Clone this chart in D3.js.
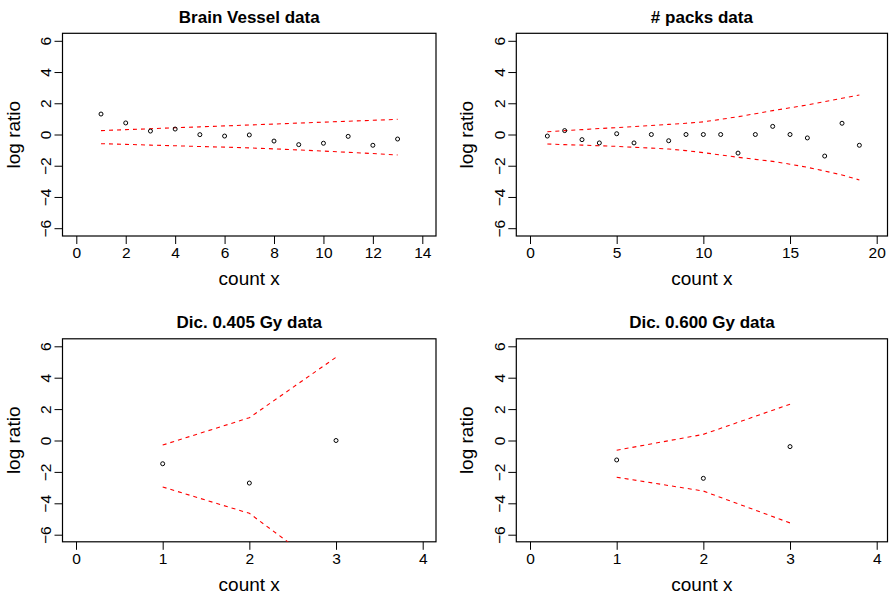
<!DOCTYPE html>
<html>
<head>
<meta charset="utf-8">
<script src="https://cdn.jsdelivr.net/npm/d3@7"></script>
<style>
  body { margin: 0; background: #fff; }
  svg { display: block; font-family: "Liberation Sans", Arial, Helvetica, sans-serif; }
  .tick line { stroke: #000; }
  .tick text { fill: #000; }
</style>
</head>
<body>
<svg id="chart" width="889" height="597"></svg>
<script>
// ---- data ----
const panelTitles = ["Brain Vessel data", "# packs data", "Dic. 0.405 Gy data", "Dic. 0.600 Gy data"];
const yTicks = [-6, -4, -2, 0, 2, 4, 6];

const brainX = [1, 2, 3, 4, 5, 6, 7, 8, 9, 10, 11, 12, 13];
const brainY = [1.31, 0.74, 0.22, 0.35, -0.01, -0.10, -0.03, -0.42, -0.65, -0.56, -0.12, -0.69, -0.29];
const brainUpper = [0.25, 0.31, 0.37, 0.43, 0.49, 0.55, 0.61, 0.67, 0.73, 0.79, 0.85, 0.91, 0.97];
const brainLower = [-0.59, -0.63, -0.68, -0.72, -0.77, -0.81, -0.86, -0.92, -0.99, -1.06, -1.14, -1.22, -1.31];
const brainTicks = [0, 2, 4, 6, 8, 10, 12, 14];

const packsX = [1, 2, 3, 4, 5, 6, 7, 8, 9, 10, 11, 12, 13, 14, 15, 16, 17, 18, 19];
const packsY = [-0.10, 0.25, -0.33, -0.54, 0.05, -0.54, 0, -0.40, 0, 0, 0, -1.19, 0, 0.52, 0, -0.22, -1.38, 0.72, -0.69];
const packsUpper = [0.18, 0.25, 0.31, 0.38, 0.44, 0.51, 0.58, 0.65, 0.72, 0.81, 0.97, 1.14, 1.33, 1.53, 1.71, 1.89, 2.10, 2.32, 2.53];
const packsLower = [-0.61, -0.65, -0.68, -0.72, -0.76, -0.82, -0.87, -0.93, -1.03, -1.16, -1.31, -1.46, -1.59, -1.72, -1.90, -2.10, -2.34, -2.59, -2.91];
const packsTicks = [0, 5, 10, 15, 20];

const dic405X = [1, 2, 3];
const dic405Y = [-1.48, -2.71, 0];
const dic405Upper = [-0.29, 1.45, 5.30];
const dic405Lower = [-2.96, -4.64, -8.73];

const dic600X = [1, 2, 3];
const dic600Y = [-1.24, -2.41, -0.39];
const dic600Upper = [-0.62, 0.39, 2.31];
const dic600Lower = [-2.34, -3.22, -5.25];
const dicTicks = [0, 1, 2, 3, 4];

// ---- layout (pixels) ----
const panels = [
  {title: panelTitles[0], xs: brainX, ys: brainY, up: brainUpper, lo: brainLower, ticks: brainTicks,
   box: {l: 62.5, r: 436, t: 33.3, b: 236}, xr: [76.3, 422.3], xd: [0, 14], yr: [228.2, 40.8]},
  {title: panelTitles[1], xs: packsX, ys: packsY, up: packsUpper, lo: packsLower, ticks: packsTicks,
   box: {l: 516.3, r: 887.5, t: 33.3, b: 236}, xr: [530, 876.7], xd: [0, 20], yr: [228.2, 40.8]},
  {title: panelTitles[2], xs: dic405X, ys: dic405Y, up: dic405Upper, lo: dic405Lower, ticks: dicTicks,
   box: {l: 62.5, r: 436, t: 338.8, b: 541.8}, xr: [76, 422.7], xd: [0, 4], yr: [534.7, 346.3]},
  {title: panelTitles[3], xs: dic600X, ys: dic600Y, up: dic600Upper, lo: dic600Lower, ticks: dicTicks,
   box: {l: 516.3, r: 887.5, t: 338.8, b: 541.8}, xr: [530, 876.7], xd: [0, 4], yr: [534.7, 346.3]}
];

const svg = d3.select("#chart");

panels.forEach((p, i) => {
  const x = d3.scaleLinear().domain(p.xd).range(p.xr);
  const y = d3.scaleLinear().domain([-6, 6]).range(p.yr);
  const g = svg.append("g");

  // clip to plot region
  g.append("clipPath").attr("id", "clip" + i)
    .append("rect")
    .attr("x", p.box.l).attr("y", p.box.t)
    .attr("width", p.box.r - p.box.l).attr("height", p.box.b - p.box.t);

  // title
  g.append("text")
    .attr("x", (p.box.l + p.box.r) / 2)
    .attr("y", p.box.t - 10.8)
    .attr("text-anchor", "middle")
    .attr("font-size", "17px")
    .attr("font-weight", "bold")
    .text(p.title);

  // x axis
  const xAxis = d3.axisBottom(x).tickValues(p.ticks).tickSize(8).tickSizeOuter(0).tickPadding(3)
    .tickFormat(d3.format("d"));
  const xg = g.append("g")
    .attr("transform", `translate(0,${p.box.b})`)
    .call(xAxis);
  xg.select(".domain").remove();
  xg.selectAll(".tick text").attr("font-size", "15.5px").attr("font-family", null);

  // y axis with rotated labels
  const yAxis = d3.axisLeft(y).tickValues(yTicks).tickSize(8).tickSizeOuter(0)
    .tickFormat(d => d < 0 ? "\u2212" + Math.abs(d) : d);
  const yg = g.append("g")
    .attr("transform", `translate(${p.box.l},0)`)
    .call(yAxis);
  yg.select(".domain").remove();
  yg.selectAll(".tick text")
    .attr("font-size", "15.5px")
    .attr("font-family", null)
    .attr("x", null).attr("dy", null)
    .attr("text-anchor", "middle")
    .attr("transform", "translate(-11.5,0) rotate(-90)");

  // axis titles
  g.append("text")
    .attr("x", (p.box.l + p.box.r) / 2)
    .attr("y", p.box.b + 49)
    .attr("text-anchor", "middle")
    .attr("font-size", "19px")
    .text("count x");
  g.append("text")
    .attr("transform", `translate(${p.box.l - 43},${(p.box.t + p.box.b) / 2}) rotate(-90)`)
    .attr("text-anchor", "middle")
    .attr("font-size", "19px")
    .text("log ratio");

  // box
  g.append("rect")
    .attr("x", p.box.l).attr("y", p.box.t)
    .attr("width", p.box.r - p.box.l).attr("height", p.box.b - p.box.t)
    .attr("fill", "none").attr("stroke", "#000").attr("stroke-width", 1.2);

  // dashed bands
  const line = d3.line().x(d => x(d[0])).y(d => y(d[1]));
  const plot = g.append("g").attr("clip-path", `url(#clip${i})`);
  [p.up, p.lo].forEach(band => {
    plot.append("path")
      .datum(p.xs.map((xv, k) => [xv, band[k]]))
      .attr("d", line)
      .attr("fill", "none")
      .attr("stroke", "#ff0000")
      .attr("stroke-width", 1.1)
      .attr("stroke-dasharray", "4,4");
  });

  // points
  plot.selectAll("circle")
    .data(p.xs.map((xv, k) => [xv, p.ys[k]]))
    .join("circle")
    .attr("cx", d => x(d[0]))
    .attr("cy", d => y(d[1]))
    .attr("r", 2)
    .attr("fill", "none")
    .attr("stroke", "#000")
    .attr("stroke-width", 1);
});
</script>
</body>
</html>
